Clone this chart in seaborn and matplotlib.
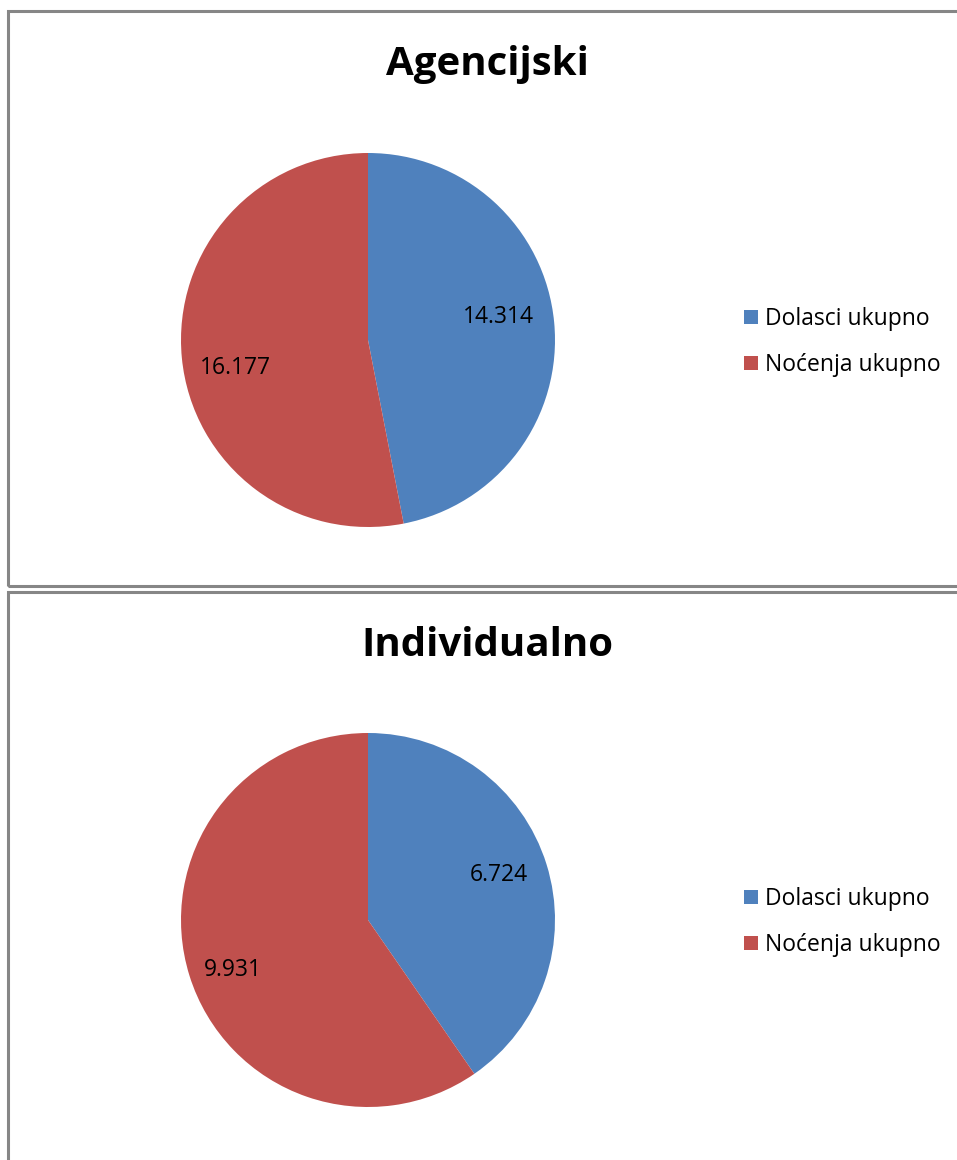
import matplotlib
matplotlib.use("Agg")
import matplotlib.pyplot as plt
from matplotlib.patches import Rectangle, Patch
import seaborn as sns

sns.set_theme(style="white")
plt.rcParams['font.family'] = ['Open Sans', 'DejaVu Sans']

categories = ["Dolasci ukupno", "Noćenja ukupno"]
titles = ["Agencijski", "Individualno"]
agencijski = [14314, 16177]
individualno = [6724, 9931]
labels_ag = ["14.314", "16.177"]
labels_ind = ["6.724", "9.931"]
colors = ["#4F81BD", "#C0504D"]

W, H = 957, 1160
fig = plt.figure(figsize=(W / 100, H / 100), dpi=100)
fig.patch.set_facecolor("white")

def px_rect(x0, y0, x1, y1):
    return [x0 / W, 1 - y1 / H, (x1 - x0) / W, (y1 - y0) / H]

# panel borders
for (x0, y0, x1, y1) in [(8, 11, 980, 586), (8, 592, 980, 1200)]:
    fig.patches.append(Rectangle((x0 / W, 1 - y1 / H), (x1 - x0) / W, (y1 - y0) / H,
                                 transform=fig.transFigure, fill=False,
                                 edgecolor="#868686", linewidth=2.2, clip_on=False))

# label placement (fraction of radius) mimicking Excel best-fit
label_pos = [
    [(0.70, 0.125), (-0.71, -0.15)],
    [(0.70, 0.24), (-0.72, -0.27)],
]

panels = [
    (titles[0], agencijski, labels_ag, 340, 65),
    (titles[1], individualno, labels_ind, 920, 645),
]
R = 187
for i, (title, vals, labs, cy, ty) in enumerate(panels):
    ax = fig.add_axes(px_rect(368 - R, cy - R, 368 + R, cy + R))
    wedges, texts = ax.pie(vals, colors=colors, startangle=90, counterclock=False,
                           radius=1, labels=labs, labeldistance=0.72,
                           wedgeprops=dict(linewidth=0),
                           textprops=dict(fontsize=16.5, color="black", ha="center", va="center"))
    for t, p in zip(texts, label_pos[i]):
        t.set_position(p)
        t.set_ha("center")
        t.set_va("center")
    ax.set_xlim(-1, 1)
    ax.set_ylim(-1, 1)
    ax.set_aspect("auto")
    ax.axis("off")
    fig.text(487 / W, 1 - ty / H, title, ha="center", va="center",
             fontsize=29, fontweight="bold", color="black")
    handles = [Patch(facecolor=c, edgecolor="none") for c in colors]
    fig.legend(handles, categories, loc="center left",
               bbox_to_anchor=(733 / W, 1 - (cy + 2) / H),
               frameon=False, fontsize=16.5, handlelength=0.6, handleheight=0.6,
               handletextpad=0.3, labelspacing=0.95, borderpad=0, labelcolor="black")

fig.savefig("out.png", dpi=100, facecolor="white")
